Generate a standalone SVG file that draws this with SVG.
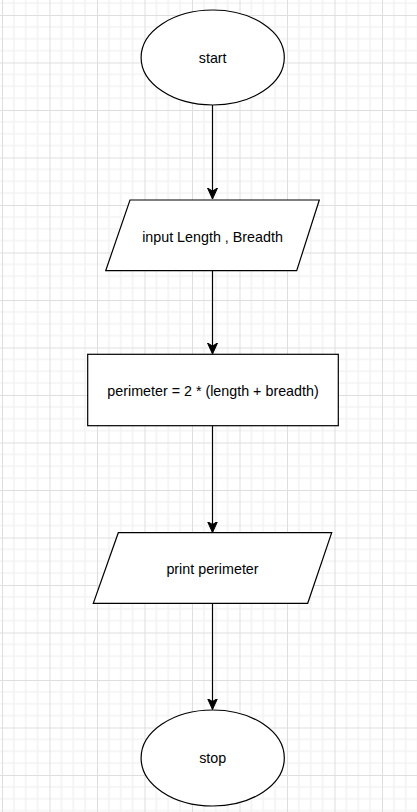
<svg xmlns="http://www.w3.org/2000/svg" width="417" height="812" viewBox="0 0 417 812">
<defs>
<pattern id="grid" patternUnits="userSpaceOnUse" x="2" y="15" width="47.5" height="47.5">
<path d="M11.875,0V47.5M23.75,0V47.5M35.625,0V47.5M0,11.875H47.5M0,23.75H47.5M0,35.625H47.5" stroke="#f3f3f3" stroke-width="1.6" fill="none"/>
<path d="M0.5,0V47.5M0,0.5H47.5" stroke="#dedede" stroke-width="1" fill="none"/>
</pattern>
<marker id="arr" markerUnits="userSpaceOnUse" markerWidth="12" markerHeight="14" refX="11" refY="6" orient="auto" viewBox="0 0 12 12">
<path d="M11,6 L0,1 L3,6 L0,11 Z" fill="#000" stroke="#000" stroke-width="1"/>
</marker>
<style>
.s{fill:#fff;stroke:#000;stroke-width:1.2}
.t{font-family:"Liberation Sans",Arial,sans-serif;font-size:14.3px;fill:#000;text-anchor:middle;dominant-baseline:central}
.c{stroke:#000;stroke-width:1.2;fill:none}
</style>
</defs>
<rect width="417" height="812" fill="#fff"/>
<rect width="417" height="812" fill="url(#grid)"/>
<g id="connectors">
<path class="c" d="M212.5,105 V199" marker-end="url(#arr)"/>
<path class="c" d="M212.5,271 V354" marker-end="url(#arr)"/>
<path class="c" d="M212.5,426 V532.5" marker-end="url(#arr)"/>
<path class="c" d="M212.5,603.5 V709.5" marker-end="url(#arr)"/>
</g>
<g id="start">
<ellipse class="s" cx="212.7" cy="57.5" rx="71.6" ry="47.5"/>
<text class="t" x="212.7" y="57.5">start</text>
</g>
<g id="input">
<polygon class="s" points="130,200 319.3,200 296.7,270.7 105.7,270.7"/>
<text class="t" x="212.5" y="236.5">input Length , Breadth</text>
</g>
<g id="process">
<rect class="s" x="87.7" y="354.3" width="250.6" height="71.4"/>
<text class="t" x="213" y="390.5">perimeter = 2 * (length + breadth)</text>
</g>
<g id="output">
<polygon class="s" points="118.3,532.7 331.7,532.7 307.7,603.3 93.3,603.3"/>
<text class="t" x="212.5" y="568.5">print perimeter</text>
</g>
<g id="stop">
<ellipse class="s" cx="212.7" cy="758" rx="71.6" ry="48"/>
<text class="t" x="212.7" y="758">stop</text>
</g>
</svg>
